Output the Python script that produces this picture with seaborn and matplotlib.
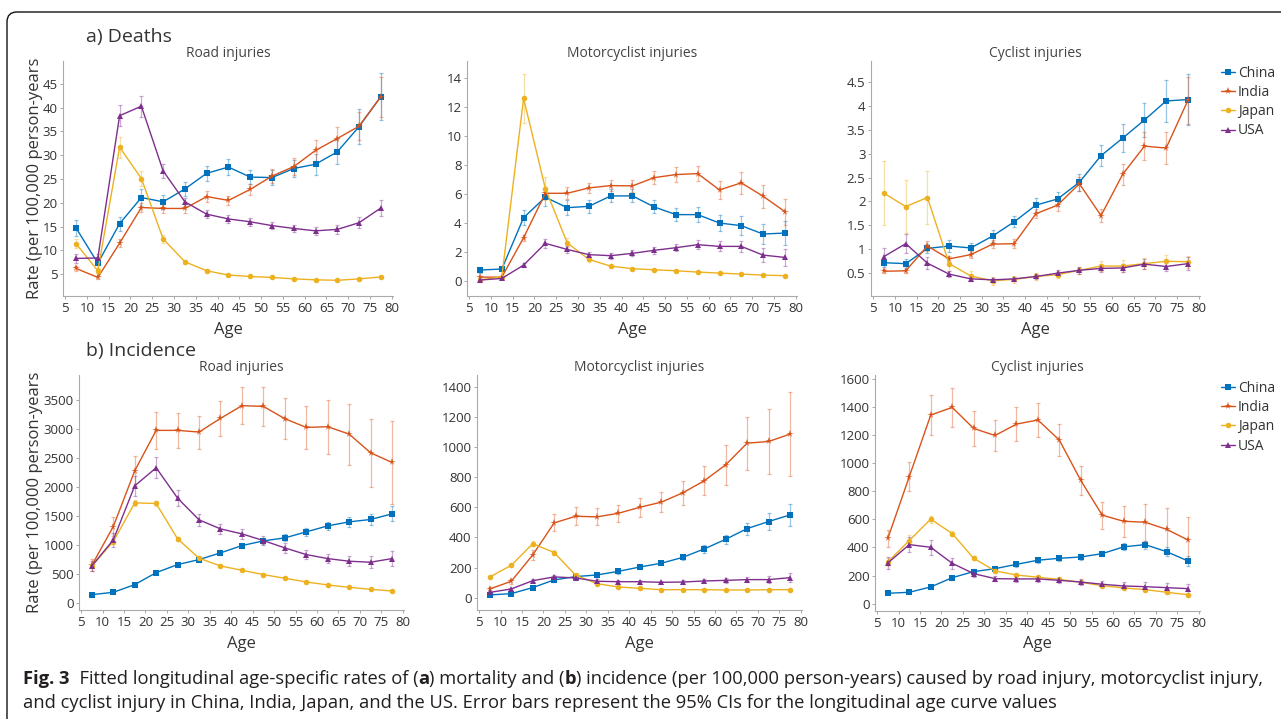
import matplotlib
matplotlib.use("Agg")
import matplotlib.pyplot as plt
import pandas as pd
import seaborn as sns
from matplotlib.patches import FancyBboxPatch

# ---- data ----
ages = [7.5, 12.5, 17.5, 22.5, 27.5, 32.5, 37.5, 42.5, 47.5, 52.5, 57.5, 62.5, 67.5, 72.5, 77.5]
countries = ["China", "India", "Japan", "USA"]

deaths_road = {
    "China": [14.7, 7.3, 15.6, 21.1, 20.2, 22.9, 26.2, 27.5, 25.4, 25.3, 27.2, 28.1, 30.7, 36.0, 42.3],
    "India": [6.2, 4.3, 11.5, 19.0, 18.8, 18.8, 21.3, 20.5, 22.8, 25.6, 27.6, 31.0, 33.5, 36.1, 42.3],
    "Japan": [11.4, 5.7, 31.7, 25.1, 12.4, 7.6, 5.7, 4.8, 4.5, 4.3, 4.0, 3.8, 3.7, 4.0, 4.4],
    "USA": [8.3, 8.4, 38.3, 40.3, 26.7, 20.2, 17.6, 16.6, 16.0, 15.2, 14.6, 14.1, 14.4, 15.8, 18.9],
}
deaths_road_err = {
    "China": [1.7, 1.2, 1.5, 1.7, 1.5, 1.5, 1.6, 1.6, 1.5, 1.5, 1.8, 2.2, 2.6, 3.7, 4.9],
    "India": [0.6, 0.4, 0.8, 1.0, 1.0, 1.0, 1.2, 1.0, 1.2, 1.5, 1.8, 2.2, 2.5, 3.0, 4.2],
    "Japan": [0.9, 0.6, 2.2, 1.6, 0.8, 0.4, 0.3, 0.2, 0.2, 0.2, 0.2, 0.2, 0.2, 0.2, 0.3],
    "USA": [0.9, 0.9, 2.2, 2.2, 1.4, 0.9, 0.8, 0.8, 0.8, 0.7, 0.8, 0.9, 1.0, 1.2, 1.6],
}

deaths_moto = {
    "China": [0.74, 0.81, 4.35, 5.76, 5.04, 5.13, 5.85, 5.85, 5.09, 4.56, 4.56, 3.98, 3.80, 3.22, 3.29],
    "India": [0.25, 0.25, 2.97, 6.03, 6.03, 6.40, 6.56, 6.54, 7.11, 7.32, 7.39, 6.26, 6.75, 5.83, 4.77],
    "Japan": [0.05, 0.28, 12.57, 6.36, 2.62, 1.47, 1.01, 0.83, 0.76, 0.69, 0.60, 0.53, 0.46, 0.39, 0.35],
    "USA": [0.05, 0.16, 1.08, 2.58, 2.16, 1.80, 1.73, 1.89, 2.10, 2.28, 2.49, 2.37, 2.37, 1.77, 1.61],
}
deaths_moto_err = {
    "China": [0.2, 0.15, 0.5, 0.6, 0.5, 0.45, 0.45, 0.45, 0.45, 0.45, 0.5, 0.55, 0.65, 0.7, 0.85],
    "India": [0.05, 0.05, 0.2, 0.4, 0.4, 0.35, 0.4, 0.4, 0.45, 0.5, 0.5, 0.6, 0.75, 0.8, 0.9],
    "Japan": [0.03, 0.05, 1.7, 0.8, 0.3, 0.15, 0.1, 0.07, 0.05, 0.05, 0.05, 0.05, 0.05, 0.05, 0.05],
    "USA": [0.03, 0.05, 0.15, 0.3, 0.25, 0.2, 0.2, 0.2, 0.25, 0.25, 0.3, 0.35, 0.4, 0.5, 0.6],
}

deaths_cycle = {
    "China": [0.71, 0.69, 1.01, 1.06, 1.02, 1.27, 1.57, 1.92, 2.05, 2.40, 2.96, 3.33, 3.71, 4.11, 4.14],
    "India": [0.53, 0.54, 1.06, 0.79, 0.88, 1.10, 1.11, 1.74, 1.92, 2.37, 1.70, 2.57, 3.16, 3.12, 4.12],
    "Japan": [2.17, 1.89, 2.08, 0.69, 0.43, 0.33, 0.36, 0.42, 0.46, 0.55, 0.64, 0.64, 0.69, 0.74, 0.73],
    "USA": [0.84, 1.11, 0.70, 0.47, 0.37, 0.35, 0.37, 0.42, 0.49, 0.55, 0.59, 0.60, 0.68, 0.63, 0.69],
}
deaths_cycle_err = {
    "China": [0.1, 0.1, 0.1, 0.12, 0.1, 0.12, 0.12, 0.14, 0.14, 0.18, 0.22, 0.29, 0.36, 0.45, 0.53],
    "India": [0.04, 0.04, 0.1, 0.07, 0.08, 0.09, 0.09, 0.1, 0.12, 0.15, 0.13, 0.22, 0.29, 0.33, 0.49],
    "Japan": [0.67, 0.55, 0.55, 0.15, 0.1, 0.08, 0.07, 0.07, 0.07, 0.08, 0.1, 0.12, 0.12, 0.13, 0.13],
    "USA": [0.17, 0.2, 0.12, 0.07, 0.05, 0.04, 0.04, 0.05, 0.06, 0.07, 0.08, 0.08, 0.1, 0.1, 0.13],
}

inc_road = {
    "China": [138, 178, 311, 518, 656, 743, 858, 984, 1065, 1117, 1220, 1324, 1393, 1434, 1531],
    "India": [645, 1313, 2274, 2971, 2971, 2942, 3178, 3397, 3385, 3172, 3022, 3034, 2907, 2585, 2418],
    "Japan": [633, 1054, 1721, 1710, 1100, 766, 633, 558, 484, 420, 357, 305, 265, 230, 201],
    "USA": [633, 1082, 2015, 2326, 1802, 1428, 1272, 1186, 1071, 944, 829, 760, 714, 697, 760],
}
inc_road_err = {
    "China": [20, 20, 25, 30, 35, 40, 45, 50, 55, 60, 70, 75, 85, 95, 130],
    "India": [100, 170, 255, 320, 305, 285, 300, 315, 330, 350, 375, 465, 525, 585, 720],
    "Japan": [30, 50, 50, 50, 40, 30, 25, 20, 20, 15, 15, 15, 15, 15, 15],
    "USA": [90, 120, 175, 185, 140, 100, 90, 85, 80, 80, 80, 80, 90, 100, 130],
}

inc_moto = {
    "China": [18, 27, 67, 118, 140, 151, 175, 204, 229, 268, 324, 388, 459, 506, 550],
    "India": [58, 109, 284, 497, 541, 537, 561, 601, 635, 697, 777, 883, 1027, 1038, 1087],
    "Japan": [138, 215, 359, 300, 149, 93, 71, 62, 53, 53, 53, 51, 51, 53, 53],
    "USA": [35, 58, 113, 138, 131, 109, 106, 106, 102, 104, 111, 115, 120, 120, 133],
}
inc_moto_err = {
    "China": [5, 5, 8, 15, 15, 15, 15, 15, 15, 20, 25, 30, 40, 55, 75],
    "India": [10, 15, 35, 57, 60, 57, 57, 62, 68, 80, 97, 135, 177, 215, 280],
    "Japan": [8, 10, 15, 15, 10, 7, 5, 5, 5, 5, 5, 5, 5, 5, 5],
    "USA": [5, 7, 12, 15, 15, 12, 12, 12, 12, 12, 14, 15, 18, 22, 30],
}

inc_cycle = {
    "China": [74, 81, 119, 185, 228, 249, 280, 309, 323, 332, 356, 404, 420, 370, 304],
    "India": [465, 904, 1341, 1396, 1246, 1196, 1277, 1306, 1163, 876, 629, 586, 579, 529, 453],
    "Japan": [297, 449, 601, 499, 323, 233, 204, 188, 173, 152, 128, 112, 100, 81, 64],
    "USA": [290, 420, 401, 287, 214, 178, 176, 176, 166, 154, 138, 126, 121, 114, 107],
}
inc_cycle_err = {
    "China": [8, 8, 10, 15, 18, 18, 18, 18, 18, 18, 20, 25, 28, 30, 35],
    "India": [60, 105, 140, 140, 125, 110, 118, 120, 115, 105, 95, 110, 130, 150, 165],
    "Japan": [30, 40, 25, 20, 15, 12, 10, 10, 10, 10, 10, 10, 10, 10, 10],
    "USA": [40, 55, 55, 40, 25, 20, 20, 20, 20, 20, 20, 25, 30, 30, 35],
}

# ---- style ----
colors = {"China": "#0072BD", "India": "#D95319", "Japan": "#EDB120", "USA": "#7E2F8E"}
markers = {"China": "s", "India": "*", "Japan": "o", "USA": "^"}
msizes = {"China": 4.5, "India": 5.5, "Japan": 4.0, "USA": 4.0}

sns.set_theme(style="ticks")
plt.rcParams["font.family"] = ["Open Sans", "DejaVu Sans"]

W, H = 1281, 719
fig = plt.figure(figsize=(W / 100, H / 100), dpi=100)


def px_axes(left, right, top, bottom):
    return fig.add_axes([left / W, 1 - bottom / H, (right - left) / W, (bottom - top) / H])


panels = [
    (deaths_road, deaths_road_err, "Road injuries", (63, 393, 61, 296), (0.4, 49.8), [5, 10, 15, 20, 25, 30, 35, 40, 45]),
    (deaths_moto, deaths_moto_err, "Motorcyclist injuries", (467, 797, 61, 296), (-1.05, 15.15), [0, 2, 4, 6, 8, 10, 12, 14]),
    (deaths_cycle, deaths_cycle_err, "Cyclist injuries", (871, 1200, 61, 296), (0.01, 4.95), [0.5, 1, 1.5, 2, 2.5, 3, 3.5, 4, 4.5]),
    (inc_road, inc_road_err, "Road injuries", (79, 404, 375, 610), (-127, 3926), [0, 500, 1000, 1500, 2000, 2500, 3000, 3500]),
    (inc_moto, inc_moto_err, "Motorcyclist injuries", (477, 802, 375, 610), (-82, 1480), [0, 200, 400, 600, 800, 1000, 1200, 1400]),
    (inc_cycle, inc_cycle_err, "Cyclist injuries", (875, 1200, 375, 611), (-52, 1626), [0, 200, 400, 600, 800, 1000, 1200, 1400, 1600]),
]

axes = []
for i, (vals, errs, title, box, ylim, yticks) in enumerate(panels):
    ax = px_axes(*box)
    axes.append(ax)
    for c in countries:
        ax.errorbar(ages, vals[c], yerr=errs[c], fmt="none", ecolor=colors[c],
                    alpha=0.4, elinewidth=0.9, capsize=1.6, capthick=0.9, zorder=1)
        sns.lineplot(x=ages, y=vals[c], ax=ax, color=colors[c], marker=markers[c],
                     markersize=msizes[c], markeredgewidth=0, linewidth=1.0,
                     label=c, legend=False, zorder=2)
    ax.set_xlim(4.5, 80.3)
    ax.set_ylim(*ylim)
    ax.set_xticks([5, 10, 15, 20, 25, 30, 35, 40, 45, 50, 55, 60, 65, 70, 75, 80])
    ax.set_yticks(yticks)
    ax.set_yticklabels([f"{t:g}" for t in yticks])
    ax.set_title(title, fontsize=10, color="#444444", pad=3)
    ax.set_xlabel("Age", fontsize=12, color="#333333", labelpad=5)
    ax.set_ylabel("")
    ax.tick_params(labelsize=9.5, colors="#333333", length=2.5, width=0.6, pad=1.5)
    ax.tick_params(color="#999999")
    for s in ("top", "right"):
        ax.spines[s].set_visible(False)
    for s in ("left", "bottom"):
        ax.spines[s].set_color("#aaaaaa")
        ax.spines[s].set_linewidth(0.8)

# y labels (top of the label is cut off in the original)
for ax in (axes[0], axes[3]):
    ax.set_ylabel("Rate (per 100,000 person-years", fontsize=12, color="#333333")
axes[0].yaxis.set_label_coords(-0.061, 0.5)
axes[3].yaxis.set_label_coords(-0.111, 0.5)

# legends
for ax, ytop in ((axes[2], 66), (axes[5], 381)):
    h, l = ax.get_legend_handles_labels()
    ax.legend(h, l, loc="upper left", bbox_to_anchor=(1221 / W, 1 - ytop / H),
              bbox_transform=fig.transFigure, frameon=False, fontsize=10,
              handlelength=1.0, handletextpad=0.2, labelspacing=0.3,
              borderpad=0, borderaxespad=0, labelcolor="#333333")

# panel headings
fig.text(86 / W, 1 - 37 / H, "a) Deaths", fontsize=14, color="#333333", va="center", ha="left")
fig.text(86 / W, 1 - 351 / H, "b) Incidence", fontsize=14, color="#333333", va="center", ha="left")

# frame with rounded corner
frame = FancyBboxPatch((0.07, -0.3), 14.0, (H - 12) / 100 + 0.3,
                       boxstyle="round,pad=0,rounding_size=0.1",
                       transform=fig.dpi_scale_trans, fill=False,
                       edgecolor="#111111", linewidth=1.0)
fig.patches.append(frame)

# caption with bold pieces
bg = fig.add_axes([0, 0, 1, 1], zorder=-1)
bg.axis("off")
cap_font = dict(fontsize=13.2, color="#231f20", family=["Open Sans", "DejaVu Sans"])


def chain(pieces, x, y):
    prev = None
    for text, bold in pieces:
        kw = dict(cap_font, fontweight="bold" if bold else "normal")
        if prev is None:
            prev = bg.text(x, y, text, transform=fig.transFigure, va="bottom", ha="left", **kw)
        else:
            prev = bg.annotate(text, xy=(1, 0), xycoords=prev, va="bottom", ha="left", **kw)


chain([("Fig. 3", True), ("  Fitted longitudinal age-specific rates of (", False), ("a", True),
       (") mortality and (", False), ("b", True),
       (") incidence (per 100,000 person-years) caused by road injury, motorcyclist injury,", False)],
      23 / W, 1 - 688 / H)
chain([("and cyclist injury in China, India, Japan, and the US. Error bars represent the 95% CIs for the longitudinal age curve values", False)],
      23 / W, 1 - 712 / H)

fig.savefig("out.png", dpi=100)
